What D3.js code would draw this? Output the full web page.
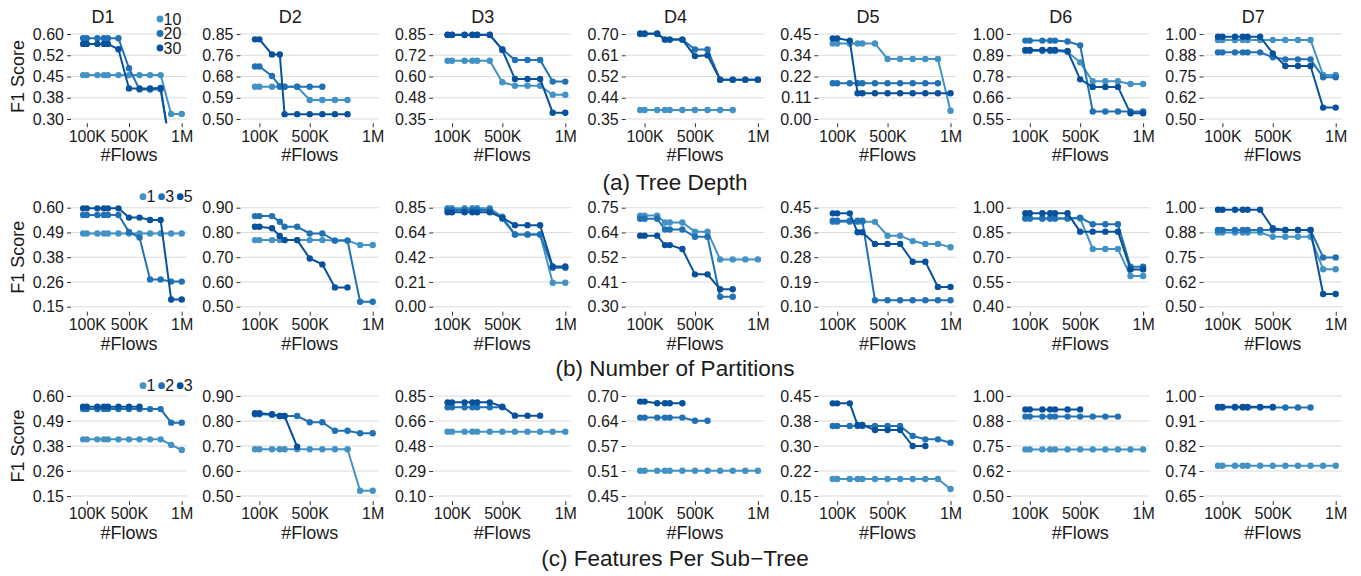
<!DOCTYPE html>
<html>
<head>
<meta charset="utf-8">
<script src="https://cdn.jsdelivr.net/npm/d3@7"></script>
<style>
  body { margin: 0; background: #fff; }
  text { font-family: "Liberation Sans", Arial, Helvetica, sans-serif; fill: #1a1a1a; }
</style>
</head>
<body>
<svg id="chart" width="1361" height="576"></svg>
<script>
// flows (in K) used on the x axis
var flowsK = [65, 100, 200, 262, 300, 400, 500, 600, 700, 800, 900, 1000];
var datasetNames = ["D1", "D2", "D3", "D4", "D5", "D6", "D7"];
var xTickValues = [100000, 500000, 1000000];
var xTickLabels = ["100K", "500K", "1M"];
var rowCaptions = ["(a) Tree Depth", "(b) Number of Partitions", "(c) Features Per Sub\u2212Tree"];
var legendLabels = [["10", "20", "30"], ["1", "3", "5"], ["1", "2", "3"]];
var seriesColors = ["#4292c6", "#2171b5", "#08519c"];

// (a) tree depth
var depthYRange = [[0.30, 0.60], [0.50, 0.85], [0.35, 0.85], [0.35, 0.70], [0.00, 0.45], [0.55, 1.00], [0.50, 1.00]];
var depthYLabels = [
  ["0.30", "0.38", "0.45", "0.52", "0.60"],
  ["0.50", "0.59", "0.68", "0.76", "0.85"],
  ["0.35", "0.48", "0.60", "0.72", "0.85"],
  ["0.35", "0.44", "0.52", "0.61", "0.70"],
  ["0.00", "0.11", "0.22", "0.34", "0.45"],
  ["0.55", "0.66", "0.78", "0.89", "1.00"],
  ["0.50", "0.62", "0.75", "0.88", "1.00"]
];
var depthF1 = [
  [[.455, .455, .455, .455, .455, .455, .455, .455, .455, .455, .318, .318],
   [.585, .585, .585, .585, .585, .585, .479, .404, .404, .405, .18, .18],
   [.565, .565, .565, .565, .565, .546, .408, .408, .408, .41, .18, .18]],
  [[.633, .633, .633, .633, .633, .633, .578, .578, .578, .578],
   [.716, .716, .677, .635, .633, .633, .633, .633],
   [.828, .828, .766, .766, .52, .52, .52, .52, .52, .52]],
  [[.693, .693, .693, .693, .693, .693, .566, .546, .546, .546, .493, .493],
   [.844, .844, .844, .844, .844, .844, .76, .697, .697, .697, .57, .57],
   [.846, .846, .846, .846, .846, .846, .756, .585, .585, .585, .387, .387]],
  [[.387, .387, .387, .387, .387, .387, .387, .387, .387, .387],
   [.70, .70, .70, .677, .677, .677, .636, .636, .512, .512, .512, .512],
   [.702, .702, .702, .677, .677, .677, .609, .612, .512, .512, .512, .512]],
  [[.40, .40, .40, .40, .40, .40, .318, .318, .318, .318, .318, .044],
   [.189, .189, .189, .189, .189, .189, .189, .189, .189, .189, .189],
   [.427, .427, .415, .136, .136, .136, .136, .136, .136, .136, .136, .136]],
  [[.91, .91, .91, .91, .91, .905, .85, .75, .75, .75, .735, .735],
   [.965, .965, .965, .965, .965, .96, .94, .59, .59, .59, .59, .59],
   [.915, .915, .915, .915, .915, .91, .76, .72, .72, .72, .58, .58]],
  [[.965, .965, .965, .965, .965, .965, .965, .965, .965, .965, .759, .759],
   [.892, .892, .892, .892, .892, .892, .863, .851, .851, .851, .745, .745],
   [.984, .984, .984, .984, .984, .984, .886, .812, .812, .812, .567, .567]]
];

// (b) number of partitions
var partsYRange = [[0.15, 0.60], [0.50, 0.90], [0.00, 0.85], [0.30, 0.75], [0.10, 0.45], [0.40, 1.00], [0.50, 1.00]];
var partsYLabels = [
  ["0.15", "0.26", "0.38", "0.49", "0.60"],
  ["0.50", "0.60", "0.70", "0.80", "0.90"],
  ["0.00", "0.21", "0.42", "0.64", "0.85"],
  ["0.30", "0.41", "0.52", "0.64", "0.75"],
  ["0.10", "0.19", "0.28", "0.36", "0.45"],
  ["0.40", "0.55", "0.70", "0.85", "1.00"],
  ["0.50", "0.62", "0.75", "0.88", "1.00"]
];
var partsF1 = [
  [[.483, .483, .483, .483, .483, .483, .483, .483, .483, .483, .483, .483],
   [.567, .567, .567, .567, .567, .567, .49, .464, .274, .274, .264, .264],
   [.597, .597, .597, .597, .597, .597, .555, .555, .544, .544, .183, .183]],
  [[.769, .769, .769, .769, .769, .769, .769, .769, .767, .767, .749, .749],
   [.866, .866, .866, .843, .823, .823, .796, .796, .767, .767, .52, .52],
   [.823, .823, .817, .786, .769, .769, .695, .671, .578, .578]],
  [[.845, .845, .845, .845, .845, .845, .773, .62, .62, .62, .206, .206],
   [.83, .83, .83, .83, .83, .83, .755, .62, .62, .62, .335, .335],
   [.81, .81, .81, .81, .81, .81, .765, .70, .70, .70, .345, .345]],
  [[.714, .714, .714, .683, .683, .683, .641, .641, .515, .515, .515, .515],
   [.70, .70, .70, .651, .651, .651, .618, .618, .345, .345],
   [.623, .623, .623, .58, .58, .562, .447, .447, .379, .379]],
  [[.40, .40, .40, .40, .40, .40, .351, .351, .332, .322, .322, .31],
   [.404, .404, .404, .404, .404, .123, .123, .123, .123, .123, .123, .123],
   [.43, .43, .43, .363, .363, .322, .322, .322, .259, .259, .17, .17]],
  [[.935, .935, .935, .935, .935, .935, .935, .75, .75, .75, .586, .586],
   [.935, .935, .935, .935, .935, .935, .94, .90, .90, .90, .642, .642],
   [.966, .966, .966, .966, .966, .966, .855, .855, .855, .855, .626, .626]],
  [[.875, .875, .875, .875, .875, .875, .853, .853, .853, .853, .689, .689],
   [.887, .887, .887, .887, .887, .887, .887, .887, .887, .887, .749, .749],
   [.99, .99, .99, .99, .99, .99, .896, .887, .887, .887, .564, .564]]
];

// (c) features per sub-tree
var featYRange = [[0.15, 0.60], [0.50, 0.90], [0.10, 0.85], [0.45, 0.70], [0.15, 0.45], [0.50, 1.00], [0.65, 1.00]];
var featYLabels = [
  ["0.15", "0.26", "0.38", "0.49", "0.60"],
  ["0.50", "0.60", "0.70", "0.80", "0.90"],
  ["0.10", "0.29", "0.48", "0.66", "0.85"],
  ["0.45", "0.51", "0.57", "0.64", "0.70"],
  ["0.15", "0.22", "0.30", "0.38", "0.45"],
  ["0.50", "0.62", "0.75", "0.88", "1.00"],
  ["0.65", "0.74", "0.82", "0.91", "1.00"]
];
var featF1 = [
  [[.405, .405, .405, .405, .405, .405, .405, .405, .405, .405, .38, .357],
   [.541, .541, .541, .541, .541, .541, .541, .541, .541, .541, .48, .48],
   [.552, .552, .552, .552, .552, .552, .552, .552]],
  [[.687, .687, .687, .687, .687, .687, .687, .687, .687, .687, .521, .521],
   [.827, .827, .825, .82, .82, .82, .795, .795, .761, .761, .751, .751],
   [.831, .831, .827, .82, .82, .697]],
  [[.5825, .5825, .5825, .5825, .5825, .5825, .5825, .5825, .5825, .5825, .5825, .5825],
   [.765, .765, .765, .765, .765, .765, .765],
   [.8025, .8025, .8025, .8025, .8025, .8025, .77, .7025, .7025, .7025]],
  [[.513, .513, .513, .513, .513, .513, .513, .513, .513, .513, .513, .513],
   [.646, .646, .646, .646, .646, .646, .638, .638],
   [.686, .686, .682, .682, .682, .682]],
  [[.201, .201, .201, .201, .201, .201, .201, .201, .201, .201, .201, .171],
   [.36, .36, .36, .36, .36, .36, .36, .36, .33, .32, .32, .31],
   [.428, .428, .428, .363, .363, .348, .348, .348, .30, .30]],
  [[.733, .733, .733, .733, .733, .733, .733, .733, .733, .733, .733, .733],
   [.897, .897, .897, .897, .897, .897, .897, .897, .897, .897],
   [.933, .933, .933, .933, .933, .933, .933]],
  [[.756, .756, .756, .756, .756, .756, .756, .756, .756, .756, .756, .756],
   [.96, .96, .96, .96, .96, .96, .96, .96, .96, .96],
   [.962, .962, .962, .962, .962, .962, .962]]
];

var rows = [
  {range: depthYRange, labels: depthYLabels, values: depthF1},
  {range: partsYRange, labels: partsYLabels, values: partsF1},
  {range: featYRange, labels: featYLabels, values: featF1}
];

// layout
var gridTop = [34, 207.7, 396],
    gridBottom = [119, 306.7, 496],
    captionY = [189.5, 376, 565.5];

function panelBox(c) {
  if (c === 0) return {left: 71, width: 116};
  return {left: 240.5 + 192.6 * (c - 1), width: 138.5};
}

var svg = d3.select("#chart");

rows.forEach(function(row, r) {
  var gt = gridTop[r], gb = gridBottom[r];
  var pad = 0.05 * (gb - gt);
  var pTop = gt - pad, pBottom = gb + pad;

  datasetNames.forEach(function(name, c) {
    var box = panelBox(c);
    var lo = row.range[c][0], hi = row.range[c][1];

    var x = d3.scaleLinear().domain([-50000, 1050000]).range([box.left, box.left + box.width]);
    var y = d3.scaleLinear().domain([lo, hi]).range([gb, gt]);
    var breaks = d3.range(5).map(function(i) { return lo + (hi - lo) * i / 4; });

    var g = svg.append("g");

    // grid
    g.selectAll(".grid")
      .data(breaks)
      .enter().append("line")
        .attr("x1", box.left).attr("x2", box.left + box.width)
        .attr("y1", function(d) { return y(d); })
        .attr("y2", function(d) { return y(d); })
        .attr("stroke", "#dcdcdc")
        .attr("stroke-width", 1.1);

    // y axis
    var yAxis = g.append("g")
      .attr("transform", "translate(" + box.left + ",0)")
      .call(d3.axisLeft(y).tickValues(breaks)
        .tickFormat(function(d, i) { return row.labels[c][i]; })
        .tickSize(4).tickPadding(3));
    // x axis
    var xAxis = g.append("g")
      .attr("transform", "translate(0," + pBottom + ")")
      .call(d3.axisBottom(x).tickValues(xTickValues)
        .tickFormat(function(d, i) { return xTickLabels[i]; })
        .tickSize(4).tickPadding(3));
    [yAxis, xAxis].forEach(function(a) {
      a.select(".domain").remove();
      a.selectAll("line").attr("stroke", "#333");
      a.selectAll("text").style("font-size", "16px").attr("fill", "#1a1a1a")
        .style("font-family", '"Liberation Sans", Arial, sans-serif');
    });

    g.append("text")
      .attr("x", box.left + box.width / 2)
      .attr("y", pBottom + 38)
      .attr("text-anchor", "middle")
      .style("font-size", "18px")
      .text("#Flows");

    if (r === 0) {
      g.append("text")
        .attr("x", c === 0 ? 103 : box.left + box.width / 2 - 19.5)
        .attr("y", 22.7)
        .attr("text-anchor", "middle")
        .style("font-size", "18px")
        .text(name);
    }

    // clip region = panel
    var clipId = "clip-" + r + "-" + c;
    svg.append("clipPath").attr("id", clipId)
      .append("rect")
        .attr("x", box.left).attr("y", pTop)
        .attr("width", box.width).attr("height", pBottom - pTop);

    var plot = g.append("g").attr("clip-path", "url(#" + clipId + ")");
    var line = d3.line()
      .x(function(d, i) { return x(flowsK[i] * 1000); })
      .y(function(d) { return y(d); });

    row.values[c].forEach(function(vals, s) {
      plot.append("path")
        .datum(vals)
        .attr("fill", "none")
        .attr("stroke", seriesColors[s])
        .attr("stroke-width", 2)
        .attr("d", line);
      plot.selectAll(".pt" + s)
        .data(vals)
        .enter().append("circle")
          .attr("cx", function(d, i) { return x(flowsK[i] * 1000); })
          .attr("cy", function(d) { return y(d); })
          .attr("r", 3.2)
          .attr("fill", seriesColors[s]);
    });
  });

  // y title
  svg.append("text")
    .attr("transform", "translate(24," + ((gt + gb) / 2) + ") rotate(-90)")
    .attr("text-anchor", "middle")
    .style("font-size", "18px")
    .text("F1 Score");

  // caption
  svg.append("text")
    .attr("x", 675)
    .attr("y", captionY[r])
    .attr("text-anchor", "middle")
    .style("font-size", "22.5px")
    .text(rowCaptions[r]);

  // legend
  var lg = svg.append("g");
  legendLabels[r].forEach(function(lab, s) {
    var lx, ly;
    if (r === 0) { lx = 160; ly = 19 + s * 14.5; }
    else { lx = 143 + s * 18.6; ly = r === 1 ? 196.7 : 385.7; }
    lg.append("circle").attr("cx", lx).attr("cy", ly).attr("r", 3.4).attr("fill", seriesColors[s]);
    lg.append("text")
      .attr("x", lx + 3.6)
      .attr("y", ly)
      .attr("dy", "0.36em")
      .style("font-size", "16px")
      .text(lab);
  });
});
</script>
</body>
</html>
